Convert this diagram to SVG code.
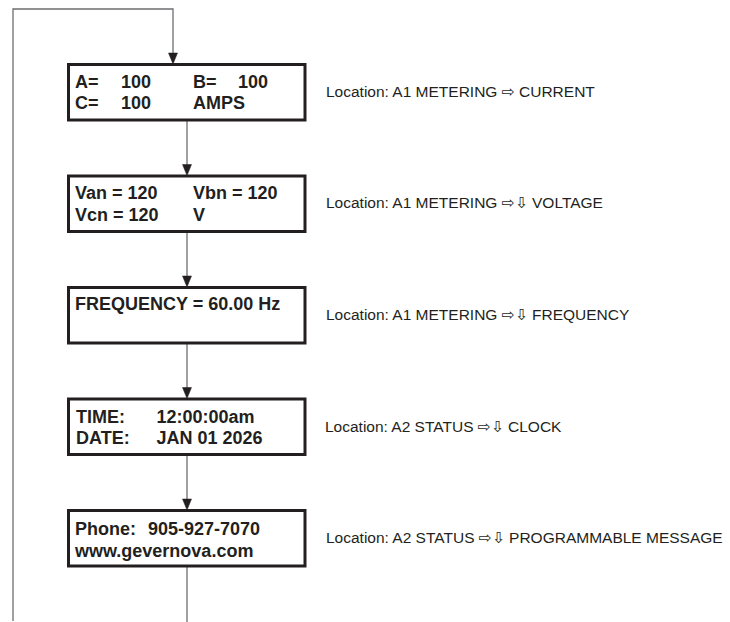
<svg xmlns="http://www.w3.org/2000/svg" width="730" height="622" viewBox="0 0 730 622">
<style>
.box{fill:#fff;stroke:#231f20;stroke-width:3}
.bt{font-family:"Liberation Sans",Arial,sans-serif;font-weight:bold;font-size:18px;fill:#231f20}
.lb{font-family:"Liberation Sans","DejaVu Sans",sans-serif;font-size:15.5px;fill:#231f20}
.ln{fill:none;stroke:#6d6e70;stroke-width:1.3}
.ah{fill:#231f20;stroke:#231f20;stroke-width:0.5}
</style>
<rect width="730" height="622" fill="#fff"/>
<g id="connectors">
<path class="ln" d="M13,621 V9 H173 V56"/>
<path class="ln" d="M187,121 V168"/>
<path class="ln" d="M187,232.5 V280"/>
<path class="ln" d="M187,344 V391"/>
<path class="ln" d="M187,455.5 V503"/>
<path class="ln" d="M187,567 V622"/>
</g>
<g id="node1">
<rect class="box" x="68.5" y="64.5" width="236.5" height="55.5"/>
<text class="bt" x="75" y="88">A=</text><text class="bt" x="121" y="88">100</text>
<text class="bt" x="193" y="88">B=</text><text class="bt" x="238" y="88">100</text>
<text class="bt" x="75" y="109">C=</text><text class="bt" x="121" y="109">100</text>
<text class="bt" x="193" y="109">AMPS</text>
<text class="lb" x="326" y="97">Location: A1 METERING ⇨ CURRENT</text>
</g>
<g id="node2">
<rect class="box" x="68.5" y="176" width="236.5" height="55.5"/>
<text class="bt" x="75" y="199">Van = 120</text><text class="bt" x="193" y="199">Vbn = 120</text>
<text class="bt" x="75" y="221">Vcn = 120</text><text class="bt" x="193" y="221">V</text>
<text class="lb" x="326" y="208">Location: A1 METERING ⇨⇩ VOLTAGE</text>
</g>
<g id="node3">
<rect class="box" x="68.5" y="287.5" width="236.5" height="55.5"/>
<text class="bt" x="75" y="310">FREQUENCY = 60.00 Hz</text>
<text class="lb" x="326" y="320">Location: A1 METERING ⇨⇩ FREQUENCY</text>
</g>
<g id="node4">
<rect class="box" x="68.5" y="399" width="236.5" height="55.5"/>
<text class="bt" x="76" y="422.5">TIME:</text><text class="bt" x="156.5" y="422.5">12:00:00am</text>
<text class="bt" x="76" y="444">DATE:</text><text class="bt" x="156.5" y="444">JAN 01 2026</text>
<text class="lb" x="325" y="431.5">Location: A2 STATUS ⇨⇩ CLOCK</text>
</g>
<g id="node5">
<rect class="box" x="68.5" y="510.5" width="236.5" height="55.5"/>
<text class="bt" x="75" y="535">Phone:</text><text class="bt" x="148" y="535">905-927-7070</text>
<text class="bt" x="75" y="556.5">www.gevernova.com</text>
<text class="lb" x="326" y="543">Location: A2 STATUS ⇨⇩ PROGRAMMABLE MESSAGE</text>
</g>
<g id="arrowheads">
<path class="ah" d="M168.5,53 L177.5,53 L173,64 Z"/>
<path class="ah" d="M182.5,164.5 L191.5,164.5 L187,175.5 Z"/>
<path class="ah" d="M182.5,276 L191.5,276 L187,287 Z"/>
<path class="ah" d="M182.5,387.5 L191.5,387.5 L187,398.5 Z"/>
<path class="ah" d="M182.5,499 L191.5,499 L187,510 Z"/>
</g>
</svg>
